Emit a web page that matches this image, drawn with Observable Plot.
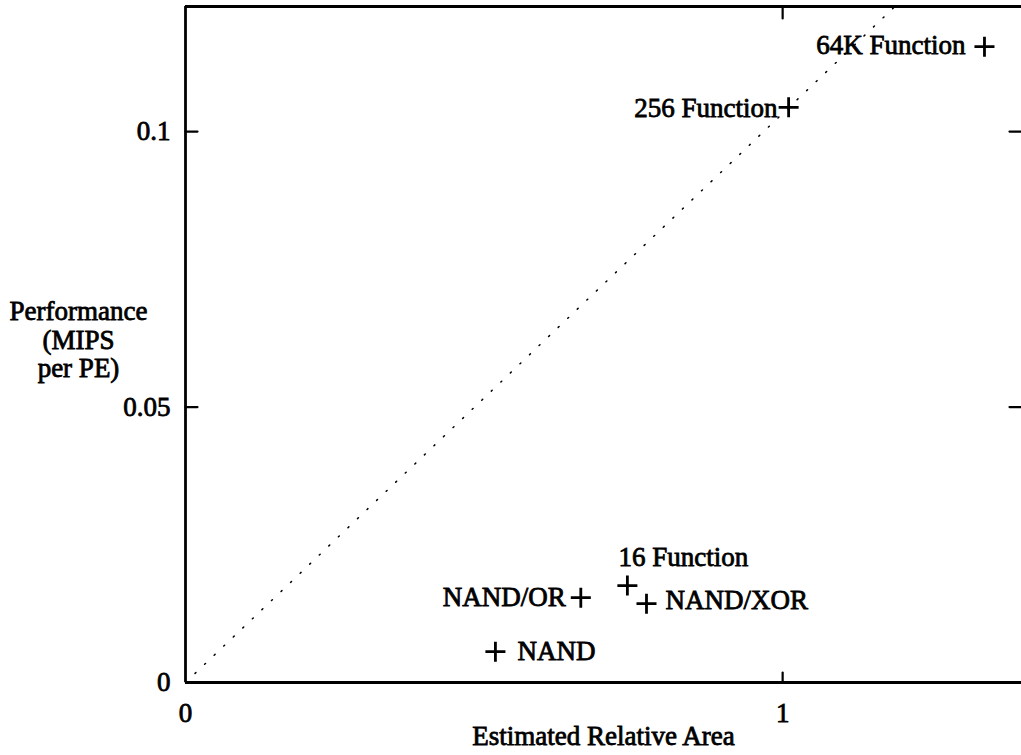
<!DOCTYPE html>
<html>
<head>
<meta charset="utf-8">
<script src="https://cdn.jsdelivr.net/npm/d3@7"></script>
<script src="https://cdn.jsdelivr.net/npm/@observablehq/plot@0.6"></script>
<style>
  html, body { margin: 0; padding: 0; background: #fff; }
  #chart svg { display: block; }
  #chart svg text { stroke: #000; stroke-width: 0.8px; }
</style>
</head>
<body>
<div id="chart"></div>
<script>
// ---- data ----
const names = ["64K Function", "256 Function", "16 Function", "NAND/XOR", "NAND/OR", "NAND"];
const area  = [1.338, 1.010, 0.740, 0.772, 0.662, 0.519];
const mips  = [0.1154, 0.1044, 0.0176, 0.0143, 0.0154, 0.0056];
// dotted reference line (origin through the 256 Function point, to the top edge)
const trendArea = [0, 1.188];
const trendMips = [0, 0.1227];
// axis ticks and extents
const xTicks = [0, 1];
const yTicks = [0, 0.05, 0.1];
const xExtent = [0, 1.4];
const yExtent = [0, 0.1227];
const xTitle = "Estimated Relative Area";
const yTitle = "Performance\n(MIPS\nper PE)";

// ---- build tables ----
const points = names.map((n, i) => ({name: n, x: area[i], y: mips[i]}));
const trend = trendArea.map((x, i) => ({x, y: trendMips[i]}));

// label placement (style only)
const place = {
  "64K Function": {textAnchor: "end", dx: -19, dy: -1},
  "256 Function": {textAnchor: "end", dx: -11, dy: 1},
  "16 Function": {textAnchor: "start", dx: -9, dy: -28},
  "NAND/XOR": {textAnchor: "start", dx: 19, dy: -3},
  "NAND/OR": {textAnchor: "end", dx: -15, dy: 0},
  "NAND": {textAnchor: "start", dx: 22, dy: 0}
};

const FONT = "'Liberation Serif', 'Times New Roman', serif";
const FS = 27;
const tickShape = {draw(context, l) { context.moveTo(0, 0); context.lineTo(0, -l); }};
const tickStyle = {length: 12, anchor: "start", shape: tickShape, stroke: "black", strokeWidth: 2.2};

const labelMarks = names.map(n => Plot.text(points.filter(d => d.name === n), {
  x: "x", y: "y", text: "name", fontSize: FS, fill: "black", ...place[n]
}));

const chart = Plot.plot({
  width: 1021,
  height: 755,
  marginLeft: 185,
  marginRight: 0,
  marginTop: 6,
  marginBottom: 73,
  style: {fontFamily: FONT, background: "white", color: "black"},
  x: {domain: xExtent},
  y: {domain: yExtent},
  marks: [
    // frame (left, top, bottom; right edge lies beyond the picture)
    Plot.ruleX([xExtent[0]], {stroke: "black", strokeWidth: 2.8}),
    Plot.ruleY([yExtent[0]], {stroke: "black", strokeWidth: 2.8}),
    Plot.ruleY([yExtent[1]], {stroke: "black", strokeWidth: 2.8}),
    // inward ticks
    Plot.vector(yTicks.filter(d => d > 0), {y: d => d, frameAnchor: "left", rotate: 90, ...tickStyle}),
    Plot.vector(yTicks.filter(d => d > 0), {y: d => d, frameAnchor: "right", rotate: -90, ...tickStyle}),
    Plot.vector(xTicks.filter(d => d > 0), {x: d => d, frameAnchor: "bottom", rotate: 0, ...tickStyle, length: 10}),
    Plot.vector(xTicks.filter(d => d > 0), {x: d => d, frameAnchor: "top", rotate: 180, ...tickStyle}),
    // axes labels
    Plot.axisX({ticks: xTicks, tickSize: 0, tickPadding: 20, tickFormat: d => String(d), fontSize: FS, label: null}),
    Plot.axisY({ticks: yTicks, tickSize: 0, tickPadding: 15, tickFormat: d => String(d), fontSize: FS, label: null}),
    Plot.text([xTitle], {frameAnchor: "bottom", dy: 62, fontSize: FS, textAnchor: "middle"}),
    Plot.text([yTitle], {frameAnchor: "left", dx: -107, dy: -5, fontSize: FS, textAnchor: "middle", lineHeight: 1.05}),
    // dotted line
    Plot.line(trend, {x: "x", y: "y", stroke: "black", strokeWidth: 1.5, strokeDasharray: "1.2 12", strokeLinecap: "round"}),
    // data markers
    Plot.dot(points, {x: "x", y: "y", symbol: "plus", r: 6.5, stroke: "black", strokeWidth: 2.8}),
    ...labelMarks
  ]
});

document.getElementById("chart").append(chart);
</script>
</body>
</html>
